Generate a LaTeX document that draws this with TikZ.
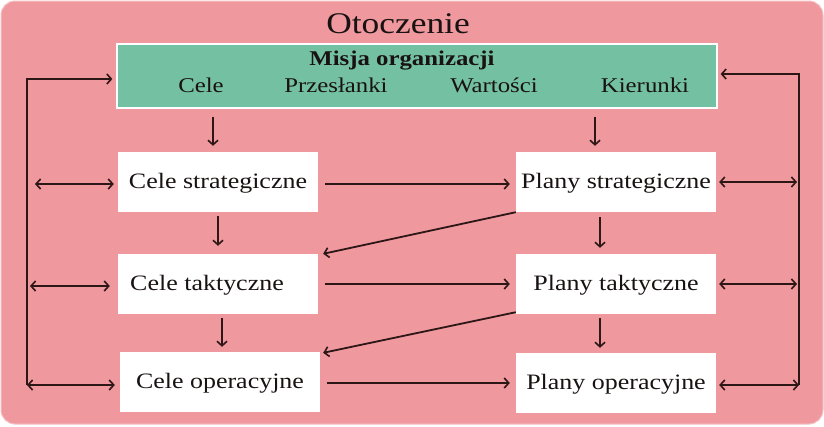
\documentclass[tikz,border=0pt]{standalone}
\usepackage{fontspec}
\setmainfont[FakeStretch=1.18]{Liberation Serif}
\usetikzlibrary{arrows.meta}
\definecolor{bgpink}{RGB}{239,153,159}
\definecolor{mgreen}{RGB}{115,192,163}
\definecolor{arrcol}{RGB}{45,22,22}
\definecolor{txtcol}{RGB}{25,18,18}
\tikzset{
  box/.style={draw=none, fill=white, minimum width=200pt, minimum height=60pt,
    inner sep=0pt, text height=15pt, text depth=3pt, text=txtcol,
    font=\fontsize{22}{26}\selectfont},
  lbl/.style={anchor=base, inner sep=0pt, text=txtcol},
  arr/.style={draw=arrcol, line width=1.8pt, -{Straight Barb[length=4.5pt,width=10pt,line width=1.6pt]}},
  darr/.style={draw=arrcol, line width=1.8pt, {Straight Barb[length=4.5pt,width=10pt,line width=1.6pt]}-{Straight Barb[length=4.5pt,width=10pt,line width=1.6pt]}},
  ln/.style={draw=arrcol, line width=1.8pt}
}
\begin{document}
\begin{tikzpicture}[x=1pt,y=-1pt]
\useasboundingbox (0,0) rectangle (824,426);
\fill[white] (0,0) rectangle (824,426);
\path[fill=bgpink, draw=bgpink!60!white, line width=1pt, rounded corners=14pt] (1,1) rectangle (823,424);
\node[lbl, font=\fontsize{30}{34}\selectfont] (ot) at (398,33) {Otoczenie};
% mission box
\node[draw=white, line width=1.2pt, fill=mgreen, minimum width=600pt, minimum height=64pt, inner sep=0pt] (misja) at (417,76) {};
\node[lbl, font=\fontsize{21}{24}\selectfont\bfseries] (mt) at (402,65) {Misja organizacji};
\node[lbl, font=\fontsize{21}{24}\selectfont] (m1) at (201,92) {Cele};
\node[lbl, font=\fontsize{21}{24}\selectfont] (m2) at (336,92) {Przesłanki};
\node[lbl, font=\fontsize{21}{24}\selectfont] (m3) at (494,92) {Wartości};
\node[lbl, font=\fontsize{21}{24}\selectfont] (m4) at (645,92) {Kierunki};
% boxes
\node[box] (cs) at (218,182) {Cele strategiczne};
\node[box] (ps) at (616,182) {Plany strategiczne};
\node[box] (ct) at (218,284) {\hspace*{-22pt}Cele taktyczne};
\node[box] (pt) at (616,284) {Plany taktyczne};
\node[box] (co) at (220,382) {Cele operacyjne};
\node[box] (po) at (616,383) {Plany operacyjne};
% vertical arrows
\draw[arr, shorten <=8pt, shorten >=6pt] ([xshift=-5pt]cs.north |- misja.south) -- ([xshift=-5pt]cs.north);
\draw[arr, shorten <=8pt, shorten >=6pt] ([xshift=-21pt]ps.north |- misja.south) -- ([xshift=-21pt]ps.north);
\draw[arr, shorten <=4pt, shorten >=8pt] (cs.south) -- (cs.south |- ct.north);
\draw[arr, shorten <=5pt, shorten >=6pt] ([xshift=-16pt]ps.south) -- ([xshift=-16pt]ps.south |- pt.north);
\draw[arr, shorten <=4pt, shorten >=5pt] ([xshift=4pt]ct.south) -- ([xshift=4pt]ct.south |- co.north);
\draw[arr, shorten <=4pt, shorten >=5pt] ([xshift=-16pt]pt.south) -- ([xshift=-16pt]pt.south |- po.north);
% horizontal arrows
\draw[arr, shorten <=7pt, shorten >=6pt] ([yshift=-2pt]cs.east) -- ([yshift=-2pt]cs.east -| ps.west);
\draw[arr, shorten <=7pt, shorten >=6pt] (ct.east) -- (ct.east -| pt.west);
\draw[arr, shorten <=7pt, shorten >=6pt] ([yshift=-1pt]co.east) -- ([yshift=-1pt]co.east -| po.west);
% diagonal arrows
\draw[arr] (ps.south west) -- ([xshift=5pt]ct.north east);
\draw[arr] ([yshift=2pt]pt.south west) -- ([xshift=3pt,yshift=-1pt]co.north east);
% left feedback
\coordinate (L1) at (27,79);
\coordinate (L2) at (27,385);
\draw[arr, shorten >=4pt] (L2) -- (L1) -- (L1 -| misja.west);
\draw[darr, shorten >=5pt] (L2) -- (L2 -| co.west);
\draw[darr, shorten <=8pt, shorten >=4pt] ([yshift=-2pt]L1 |- cs.west) -- ([yshift=-2pt]cs.west);
\draw[darr, shorten <=3pt, shorten >=8pt] ([yshift=-2pt]L1 |- ct.west) -- ([yshift=-2pt]ct.west);
% right feedback
\coordinate (R1) at (799,74);
\coordinate (R2) at (799,385);
\draw[arr, shorten >=3pt] (R2) -- (R1) -- (R1 -| misja.east);
\draw[darr, shorten <=3pt, shorten >=2pt] (ps.east) -- (ps.east -| R1);
\draw[darr, shorten <=3pt, shorten >=2pt] (pt.east) -- (pt.east -| R1);
\draw[darr, shorten <=3pt] (R2 -| po.east) -- (R2);
\end{tikzpicture}
\end{document}
